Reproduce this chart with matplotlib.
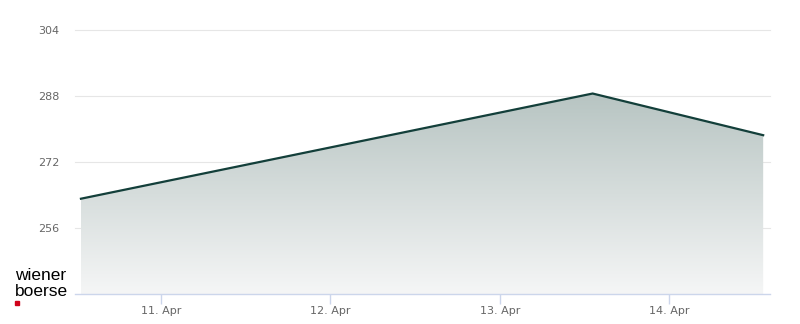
import matplotlib
matplotlib.use("Agg")
import matplotlib.pyplot as plt
import matplotlib.dates as mdates
import numpy as np
import pandas as pd
from matplotlib.colors import LinearSegmentedColormap

# Data
dates = pd.to_datetime(["2023-04-10 12:40", "2023-04-13 13:10", "2023-04-14 13:20"])
values = [263.1, 288.6, 278.5]
yticks = [256, 272, 288, 304]
xtick_dates = pd.to_datetime(["2023-04-11", "2023-04-12", "2023-04-13", "2023-04-14"])
xtick_labels = ["11. Apr", "12. Apr", "13. Apr", "14. Apr"]

fig = plt.figure(figsize=(8, 3.24), dpi=100)
ax = fig.add_axes([75/800, 1-294/324, (770-75)/800, (294-30)/324])

xnum = mdates.date2num(dates)
x0 = mdates.date2num(pd.Timestamp("2023-04-11")) - 86/169.5
x1 = mdates.date2num(pd.Timestamp("2023-04-14")) + 101/169.5

line_color = "#133f3a"
ax.plot(xnum, values, color=line_color, lw=1.6, zorder=4, solid_joinstyle="miter")

# gradient fill
poly = ax.fill_between(xnum, values, 240, color="none", lw=0)
cmap = LinearSegmentedColormap.from_list("g", ["#f5f6f6", "#b7c4c2"])
grad = np.linspace(0, 1, 256).reshape(-1, 1)
ymax = max(values)
im = ax.imshow(grad, cmap=cmap, aspect="auto", origin="lower",
               extent=[xnum[0], xnum[-1], 240, ymax], zorder=2)
path = poly.get_paths()[0]
im.set_clip_path(path, transform=ax.transData)
ax.set_xlim(x0, x1)
ax.set_ylim(240, 304)

# grid
for yt in yticks:
    ax.axhline(yt, color="#e6e6e6", lw=0.8, zorder=1, clip_on=False)

for s in ["top", "right", "left"]:
    ax.spines[s].set_visible(False)
ax.spines["bottom"].set_color("#ccd6eb")
ax.spines["bottom"].set_linewidth(1)
ax.spines["bottom"].set_zorder(5)

ax.set_yticks(yticks)
ax.set_yticklabels([str(v) for v in yticks])
ax.tick_params(axis="y", length=0, pad=11, labelsize=8, labelcolor="#666666")
ax.set_xticks(mdates.date2num(xtick_dates))
ax.set_xticklabels(xtick_labels)
ax.tick_params(axis="x", length=7, width=1, color="#ccd6eb", labelsize=8,
               labelcolor="#666666", pad=2)

# logo
fig.text(15/800, 1-276/324, "wiener", fontsize=12.5, family="Liberation Sans",
         color="black", va="center", ha="left")
fig.text(15/800, 1-292/324, "boerse", fontsize=12.5, family="Liberation Sans",
         color="black", va="center", ha="left")
fig.patches.append(plt.Rectangle((15/800, 1-305/324), 4/800, 4/324,
                                 transform=fig.transFigure, color="#d0021b"))

fig.savefig("out.png", dpi=100)
